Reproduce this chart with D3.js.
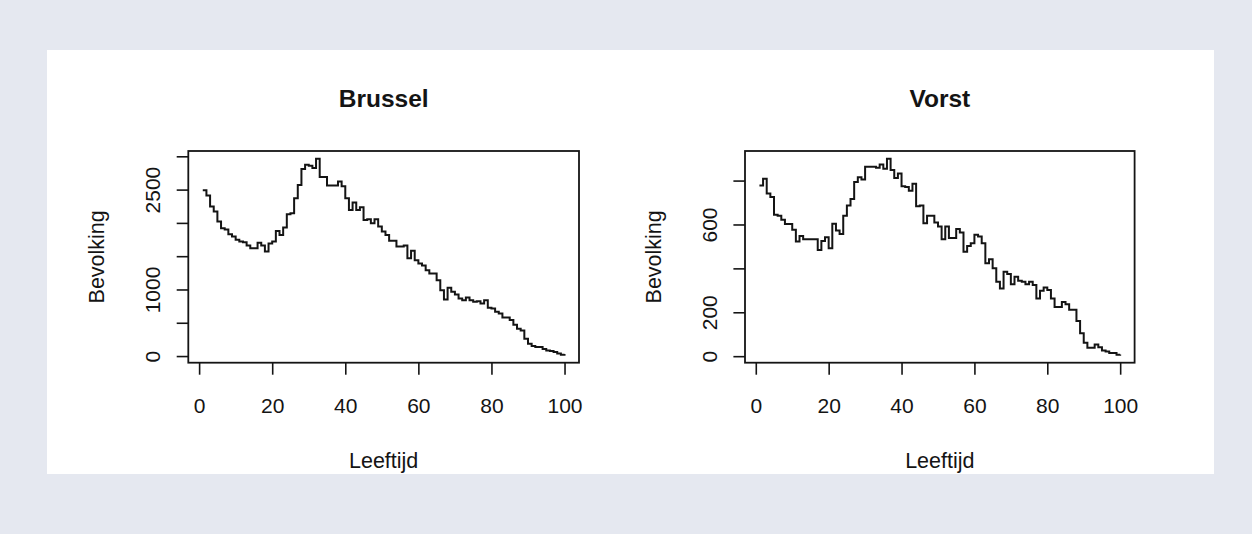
<!DOCTYPE html>
<html>
<head>
<meta charset="utf-8">
<script src="https://cdn.jsdelivr.net/npm/d3@7"></script>
<style>
  html, body { margin: 0; padding: 0; background: #e5e8f0; }
  svg { display: block; }
  text { font-family: "Liberation Sans", Arial, Helvetica, sans-serif; fill: #141414; }
</style>
</head>
<body>
<svg id="chart" width="1252" height="534"></svg>
<script>
// Age (years) on the x axis
const ages = [
  1, 2, 3, 4, 5, 6, 7, 8, 9, 10,
  11, 12, 13, 14, 15, 16, 17, 18, 19, 20,
  21, 22, 23, 24, 25, 26, 27, 28, 29, 30,
  31, 32, 33, 34, 35, 36, 37, 38, 39, 40,
  41, 42, 43, 44, 45, 46, 47, 48, 49, 50,
  51, 52, 53, 54, 55, 56, 57, 58, 59, 60,
  61, 62, 63, 64, 65, 66, 67, 68, 69, 70,
  71, 72, 73, 74, 75, 76, 77, 78, 79, 80,
  81, 82, 83, 84, 85, 86, 87, 88, 89, 90,
  91, 92, 93, 94, 95, 96, 97, 98, 99, 100
];

// Population per age – Brussel
const brussel = [
  2490, 2410, 2245, 2170, 2020, 1920, 1900, 1830, 1795, 1745,
  1720, 1710, 1660, 1620, 1620, 1700, 1660, 1570, 1690, 1720,
  1880, 1820, 1930, 2130, 2145, 2370, 2570, 2810, 2875, 2860,
  2825, 2962, 2690, 2690, 2560, 2560, 2560, 2620, 2550, 2370,
  2195, 2305, 2195, 2235, 2045, 2055, 1995, 2055, 1945, 1870,
  1820, 1730, 1730, 1645, 1645, 1660, 1470, 1580, 1440, 1390,
  1360, 1290, 1240, 1240, 1140, 990, 850, 1025, 965, 925,
  865, 840, 880, 840, 815, 825, 790, 840, 725, 715,
  665, 640, 580, 580, 540, 470, 410, 385, 260, 185,
  150, 135, 135, 105, 85, 75, 60, 40, 18, 30
];

// Population per age – Vorst
const vorst = [
  777, 808, 741, 725, 644, 640, 621, 602, 602, 576,
  522, 548, 533, 533, 533, 533, 484, 525, 542, 492,
  603, 573, 557, 640, 686, 716, 793, 815, 805, 863,
  863, 863, 858, 873, 854, 899, 848, 812, 832, 774,
  771, 754, 785, 683, 686, 606, 640, 640, 609, 591,
  533, 591, 538, 538, 579, 563, 476, 502, 515, 553,
  545, 515, 423, 441, 400, 339, 308, 385, 374, 328,
  362, 344, 339, 328, 339, 324, 263, 298, 313, 301,
  263, 224, 224, 247, 237, 212, 212, 160, 105, 61,
  38, 38, 53, 41, 26, 21, 14, 14, 6, 8
];

const xTicks = [0, 20, 40, 60, 80, 100];
const brusselYTicks = [0, 500, 1000, 1500, 2000, 2500, 3000];
const brusselYLabels = [0, 1000, 2500];
const vorstYTicks = [0, 200, 400, 600, 800];
const vorstYLabels = [0, 200, 600];
const titles = ["Brussel", "Vorst"];
const xTitle = "Leeftijd";
const yTitle = "Bevolking";

const svg = d3.select("#chart");
const ink = "#141414";

// White plotting sheet
svg.append("rect")
  .attr("x", 47).attr("y", 50)
  .attr("width", 1167).attr("height", 424)
  .attr("fill", "#ffffff");

// Pad a [min, max] range by 4% on both sides
function padded(lo, hi) {
  const d = (hi - lo) * 0.04;
  return [lo - d, hi + d];
}

function drawPanel(box, title, values, yTicks, yLabels) {
  const x = d3.scaleLinear()
    .domain(padded(d3.min(ages), d3.max(ages)))
    .range([box.left, box.right]);
  const y = d3.scaleLinear()
    .domain(padded(d3.min(values), d3.max(values)))
    .range([box.bottom, box.top]);

  const g = svg.append("g");

  // Step line (horizontal first, then vertical)
  const line = d3.line()
    .x((d, i) => x(ages[i]))
    .y(d => y(d))
    .curve(d3.curveStepAfter);
  g.append("path")
    .datum(values)
    .attr("d", line)
    .attr("fill", "none")
    .attr("stroke", ink)
    .attr("stroke-width", 2)
    .attr("stroke-linejoin", "miter");

  // Frame
  g.append("rect")
    .attr("x", box.left).attr("y", box.top)
    .attr("width", box.right - box.left)
    .attr("height", box.bottom - box.top)
    .attr("fill", "none")
    .attr("stroke", ink)
    .attr("stroke-width", 1.8);

  // Bottom axis
  const xa = g.append("g")
    .attr("transform", `translate(0,${box.bottom})`)
    .call(d3.axisBottom(x).tickValues(xTicks).tickSize(12).tickPadding(23.5).tickFormat(d3.format("d")));
  xa.select(".domain").remove();
  xa.selectAll("line").attr("stroke", ink).attr("stroke-width", 1.6);
  xa.selectAll("text")
    .attr("fill", ink)
    .style("font-size", "21px")
    .style("font-family", '"Liberation Sans", Arial, sans-serif');

  // Left axis with labels running along the axis
  const ya = g.append("g")
    .attr("transform", `translate(${box.left},0)`)
    .call(d3.axisLeft(y).tickValues(yTicks).tickSize(11.6)
      .tickFormat(d => yLabels.includes(d) ? String(d) : ""));
  ya.select(".domain").remove();
  ya.selectAll("line").attr("stroke", ink).attr("stroke-width", 1.6);
  ya.selectAll("text")
    .attr("x", null)
    .attr("dy", null)
    .attr("text-anchor", "middle")
    .attr("transform", "translate(-28,0) rotate(-90)")
    .attr("fill", ink)
    .style("font-size", "21px")
    .style("font-family", '"Liberation Sans", Arial, sans-serif');

  const cx = (box.left + box.right) / 2;

  // Title
  g.append("text")
    .attr("x", cx).attr("y", 106.5)
    .attr("text-anchor", "middle")
    .style("font-size", "24.5px")
    .style("font-weight", "bold")
    .text(title);

  // Axis titles
  g.append("text")
    .attr("x", cx).attr("y", 467.5)
    .attr("text-anchor", "middle")
    .style("font-size", "21.5px")
    .text(xTitle);

  g.append("text")
    .attr("transform", `translate(${box.left - 84},${(box.top + box.bottom) / 2}) rotate(-90)`)
    .attr("text-anchor", "middle")
    .style("font-size", "21.5px")
    .text(yTitle);
}

drawPanel({ left: 188.3, right: 579, top: 151, bottom: 362.7 }, titles[0], brussel, brusselYTicks, brusselYLabels);
drawPanel({ left: 745, right: 1134.6, top: 151, bottom: 362.7 }, titles[1], vorst, vorstYTicks, vorstYLabels);
</script>
</body>
</html>
